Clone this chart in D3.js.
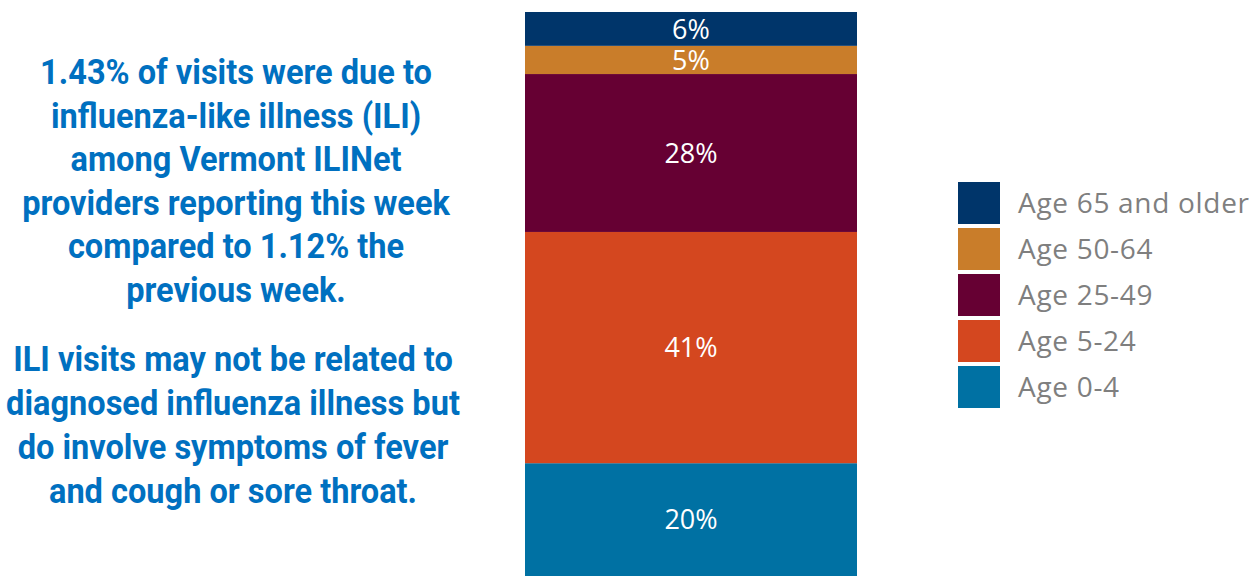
<!DOCTYPE html>
<html>
<head>
<meta charset="utf-8">
<script src="https://cdn.jsdelivr.net/npm/d3@7"></script>
<style>
  body { margin: 0; background: #fff; }
  svg { display: block; }
</style>
</head>
<body>
<div id="chart"></div>
<script>
// Donnees (de bas en haut de la barre)
var ageGroups = ["Age 0-4", "Age 5-24", "Age 25-49", "Age 50-64", "Age 65 and older"];
var shares = [20, 41, 28, 5, 6];
var colors = ["#0071a3", "#d4471f", "#660033", "#c97d2a", "#00356a"];

// Texte de gauche
var para1 = ["1.43% of visits were due to", "influenza-like illness (ILI)", "among Vermont ILINet",
             "providers reporting this week", "compared to 1.12% the", "previous week."];
var para2 = ["ILI visits may not be related to", "diagnosed influenza illness but",
             "do involve  symptoms of fever", "and cough or sore throat."];

var W = 1260, H = 576;

var svg = d3.select("#chart").append("svg")
    .attr("width", W)
    .attr("height", H);

// Echelles
var y = d3.scaleLinear().domain([0, 100]).range([576, 12]);
var x = d3.scaleBand().domain(["ILI"]).range([525, 857]).padding(0);

// Empilement
var stacked = [];
var cum = 0;
for (var i = 0; i < shares.length; i++) {
    stacked.push({name: ageGroups[i], v: shares[i], y0: cum, y1: cum + shares[i], color: colors[i]});
    cum += shares[i];
}

var bar = svg.append("g");
bar.selectAll("rect")
    .data(stacked)
    .enter()
    .append("rect")
    .attr("x", x("ILI"))
    .attr("width", x.bandwidth())
    .attr("y", function (d) { return y(d.y1); })
    .attr("height", function (d) { return y(d.y0) - y(d.y1); })
    .style("fill", function (d) { return d.color; });

bar.selectAll("text")
    .data(stacked)
    .enter()
    .append("text")
    .attr("x", x("ILI") + x.bandwidth() / 2)
    .attr("y", function (d) { return (y(d.y0) + y(d.y1)) / 2; })
    .attr("dy", "0.36em")
    .attr("text-anchor", "middle")
    .style("font-family", "'Open Sans', sans-serif")
    .style("font-size", "27px")
    .style("fill", "#fff")
    .text(function (d) { return d.v + "%"; });

// Legende (ordre inverse : 65+ en haut)
var legend = svg.append("g").attr("transform", "translate(958,182)");
var legItems = stacked.slice().reverse();
var leg = legend.selectAll("g")
    .data(legItems)
    .enter()
    .append("g")
    .attr("transform", function (d, i) { return "translate(0," + (i * 46) + ")"; });
leg.append("rect")
    .attr("width", 42)
    .attr("height", 42)
    .style("fill", function (d) { return d.color; });
leg.append("text")
    .attr("x", 60)
    .attr("y", 21)
    .attr("dy", "0.36em")
    .style("font-family", "'Open Sans', sans-serif")
    .style("font-size", "28px")
    .style("letter-spacing", "0.7px")
    .style("fill", "#7f7f7f")
    .text(function (d) { return d.name; });

// Texte explicatif (police condensee simulee)
function drawPara(lines, top, step) {
    var g = svg.append("g");
    g.selectAll("text")
        .data(lines)
        .enter()
        .append("text")
        .attr("x", 0)
        .attr("y", function (d, i) { return top + i * step; })
        .attr("text-anchor", "middle")
        .style("font-family", "Roboto, sans-serif")
        .style("font-weight", "bold")
        .style("font-size", "35px")
        .style("fill", "#0070c0")
        .text(function (d) { return d; });
    return g;
}
var g1 = drawPara(para1, 84, 43.6);
var g2 = drawPara(para2, 371, 44);

// facteur horizontal : "diagnosed influenza illness but" ~ 454px
var ref = g2.selectAll("text").nodes()[1].getComputedTextLength();
var sx = 454 / ref;
g1.attr("transform", "translate(236,0) scale(" + sx + ",1)");
g2.attr("transform", "translate(233,0) scale(" + sx + ",1)");
</script>
</body>
</html>
